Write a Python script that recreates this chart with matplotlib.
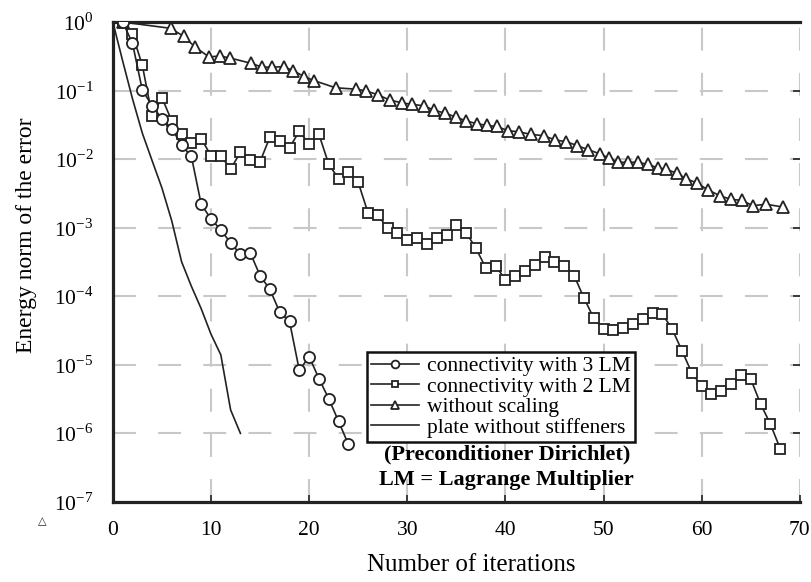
import matplotlib
matplotlib.use("Agg")
import matplotlib.pyplot as plt
import numpy as np
from matplotlib.ticker import FixedLocator, FixedFormatter, NullLocator

plt.rcParams['font.family'] = ['Liberation Serif', 'DejaVu Serif']
plt.rcParams['mathtext.fontset'] = 'custom'
plt.rcParams['mathtext.rm'] = 'Liberation Serif'
plt.rcParams['lines.scale_dashes'] = False

# connectivity with 3 LM (circles), iterations 1..24
it_3lm = np.arange(1, 25)
err_3lm = [1.0, 0.49, 0.102, 0.060, 0.039, 0.028, 0.016, 0.011, 0.0022, 0.00134,
           9.3e-4, 6.0e-4, 4.1e-4, 4.3e-4, 2.0e-4, 1.26e-4, 5.9e-5, 4.3e-5, 8.3e-6,
           1.32e-5, 6.3e-6, 3.2e-6, 1.5e-6, 6.9e-7]

# connectivity with 2 LM (squares), iterations 1..68
it_2lm = np.arange(1, 69)
err_2lm = [1.0, 0.66, 0.235, 0.043, 0.079, 0.036, 0.023, 0.017, 0.020, 0.0112,
           0.0112, 0.0072, 0.0126, 0.0096, 0.0092, 0.021, 0.0187, 0.0147, 0.0256, 0.0165,
           0.023, 0.0084, 0.0052, 0.0065, 0.0046, 0.00165, 0.00152, 0.00099, 8.5e-4, 6.6e-4,
           7.0e-4, 5.7e-4, 7.2e-4, 7.9e-4, 0.0011, 8.5e-4, 5.0e-4, 2.6e-4, 2.8e-4, 1.74e-4,
           2.0e-4, 2.3e-4, 2.9e-4, 3.7e-4, 3.2e-4, 2.8e-4, 2.0e-4, 9.5e-5, 4.8e-5, 3.3e-5,
           3.2e-5, 3.5e-5, 4.0e-5, 4.7e-5, 5.7e-5, 5.5e-5, 3.3e-5, 1.6e-5, 7.6e-6, 4.9e-6,
           3.8e-6, 4.1e-6, 5.2e-6, 7.0e-6, 6.2e-6, 2.7e-6, 1.37e-6, 6.0e-7]

# without scaling (triangles)
it_noscal = [1, 5.9, 7.2, 8.4, 9.8, 10.9, 11.9, 14.1, 15.2, 16.2,
             17.4, 18.4, 19.5, 20.5, 22.7, 24.8, 25.8, 27.0, 28.2, 29.5,
             30.5, 31.7, 32.7, 33.8, 35.0, 36.0, 37.1, 38.1, 39.1, 40.3,
             41.4, 42.6, 43.9, 45.1, 46.2, 47.3, 48.4, 49.6, 50.6, 51.5,
             52.5, 53.5, 54.5, 55.5, 56.4, 57.5, 58.4, 59.5, 60.6, 61.9,
             63.0, 64.1, 65.2, 66.6, 68.3]
err_noscal = [1.0, 0.81, 0.62, 0.43, 0.31, 0.32, 0.30, 0.25, 0.22, 0.22,
              0.223, 0.195, 0.16, 0.14, 0.11, 0.105, 0.099, 0.087, 0.073, 0.066,
              0.063, 0.060, 0.052, 0.047, 0.041, 0.036, 0.033, 0.031, 0.030, 0.026,
              0.025, 0.023, 0.022, 0.019, 0.018, 0.0158, 0.0138, 0.012, 0.0103, 0.0090,
              0.0090, 0.0090, 0.0084, 0.0075, 0.0071, 0.0062, 0.0052, 0.0045, 0.0036, 0.0029,
              0.0026, 0.0025, 0.0021, 0.0022, 0.0020]

# plate without stiffeners (plain line)
it_plate = np.arange(0, 14)
err_plate = [1.0, 0.27, 0.076, 0.024, 0.0095, 0.0038, 0.00126, 3.2e-4, 1.4e-4, 6.6e-5,
             2.8e-5, 1.4e-5, 2.2e-6, 1.0e-6]

yticks = [1e-7, 1e-6, 1e-5, 1e-4, 1e-3, 1e-2, 1e-1, 1e0]
ytick_labels = ['10$^{-7}$', '10$^{-6}$', '10$^{-5}$', '10$^{-4}$',
                '10$^{-3}$', '10$^{-2}$', '10$^{-1}$', '10$^{0}$']

ink = '#222222'
mk = dict(color=ink, lw=1.2, markerfacecolor='white', markeredgecolor=ink,
          markeredgewidth=1.3)

fig = plt.figure(figsize=(8.12, 5.82), dpi=100)
ax = fig.add_axes([0.139, 0.1375, 0.846, 0.8246])

ax.plot(it_plate, err_plate, '-', color=ink, lw=1.2, label='plate without stiffeners', zorder=3)
ax.plot(it_noscal, err_noscal, '-^', ms=8.5, label='without scaling', zorder=4, **mk)
ax.plot(it_2lm, err_2lm, '-s', ms=6.5, label='connectivity with 2 LM', zorder=5, **mk)
ax.plot(it_3lm, err_3lm, '-o', ms=8, label='connectivity with 3 LM', zorder=6, **mk)

ax.set_yscale('log')
ax.set_xlim(0, 70)
ax.set_ylim(1e-7, 1)
ax.xaxis.set_major_locator(FixedLocator(np.arange(0, 71, 10)))
ax.yaxis.set_major_locator(FixedLocator(yticks))
ax.yaxis.set_major_formatter(FixedFormatter(ytick_labels))
ax.yaxis.set_minor_locator(NullLocator())

ax.grid(True, color='#c8c8c8', lw=1.5, linestyle=(0, (16.5, 16)))
ax.set_axisbelow(True)

ax.tick_params(axis='both', direction='in', labelsize=15.5, pad=14, length=5,
               width=1.2, color=ink)
ax.tick_params(axis='y', left=False, right=True)

for side in ['left', 'bottom', 'top']:
    ax.spines[side].set_linewidth(2.3)
    ax.spines[side].set_color(ink)
ax.spines['right'].set_visible(False)

h, l = ax.get_legend_handles_labels()
order = [3, 2, 1, 0]
leg = ax.legend([h[i] for i in order], [l[i] for i in order],
                loc='upper left', bbox_to_anchor=(0.3697, 0.3125), borderaxespad=0,
                fancybox=False, framealpha=1, edgecolor='#111111', fontsize=15.5,
                labelspacing=0.02, handlelength=2.2, handletextpad=0.4,
                borderpad=0.2, markerscale=0.7)
leg.get_frame().set_linewidth(1.8)

ax.text(0.5735, 0.098, '(Preconditioner Dirichlet)', transform=ax.transAxes,
        ha='center', va='center', fontsize=16, fontweight='bold')
ax.text(0.5735, 0.046, 'LM = Lagrange Multiplier', transform=ax.transAxes,
        ha='center', va='center', fontsize=16, fontweight='bold')

ax.set_xlabel('Number of iterations', fontsize=18, va='center')
ax.xaxis.set_label_coords(0.521, -0.131)
ax.set_ylabel('Energy norm of the error', fontsize=17, va='center')
ax.yaxis.set_label_coords(-0.125, 0.556)

fig.text(42 / 812, 1 - 521 / 582, '\u25b3', fontsize=8, ha='center', va='center',
         family='DejaVu Sans', color=ink)

fig.savefig('out.png', dpi=100)
